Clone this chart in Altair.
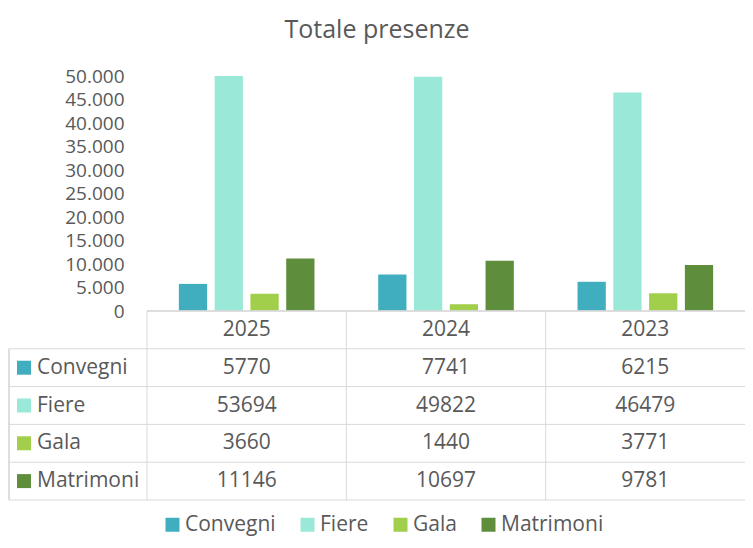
import altair as alt
import pandas as pd

years = ["2025", "2024", "2023"]
series = ["Convegni", "Fiere", "Gala", "Matrimoni"]
convegni = [5770, 7741, 6215]
fiere = [53694, 49822, 46479]
gala = [3660, 1440, 3771]
matrimoni = [11146, 10697, 9781]
colors = ["#40AEBF", "#9AE8D7", "#A2CF4B", "#5E8D3C"]
y_ticks = [0, 5000, 10000, 15000, 20000, 25000, 30000, 35000, 40000, 45000, 50000]

FONT = "Open Sans"
GRAY = "#595959"
LINE = "#D9D9D9"
W = 598
BAR_H = 235
TAB_TOP, TAB_BOT = 235, 424
H = TAB_BOT
HEAD_LEFT = -138

vals = [convegni, fiere, gala, matrimoni]
rows = []
for si, s in enumerate(series):
    for yi, y in enumerate(years):
        rows.append({"series": s, "year": y, "value": vals[si][yi],
                     "col": yi + 0.5, "row": si + 1.5})
df = pd.DataFrame(rows)
hdr = pd.DataFrame({"year": years, "col": [i + 0.5 for i in range(3)], "row": [0.5] * 3})
rowhdr = pd.DataFrame({"series": series, "row": [i + 1.5 for i in range(4)]})
hlines = pd.DataFrame({"r": [1, 2, 3, 4, 5]})
vlines = pd.DataFrame({"c": [0, 1, 2]})

xs = alt.Scale(domain=[0, 3], range=[0, W])
ys = alt.Scale(domain=[0, 5], range=[TAB_TOP, TAB_BOT])

legend = alt.Legend(orient="none", legendX=15, legendY=438, direction="horizontal",
                    title=None, symbolType="square", symbolSize=196, symbolStrokeWidth=0,
                    labelFont=FONT, labelFontSize=21, labelColor=GRAY,
                    columnPadding=21, labelOffset=2, padding=0)
color_enc = alt.Color("series:N", sort=series,
                      scale=alt.Scale(domain=series, range=colors), legend=legend)

bars = alt.Chart(df).mark_bar(clip=True).encode(
    x=alt.X("year:N", sort=years, scale=alt.Scale(paddingInner=0, paddingOuter=0), axis=None),
    xOffset=alt.XOffset("series:N", sort=series,
                        scale=alt.Scale(paddingInner=0.21, paddingOuter=0.89)),
    y=alt.Y("value:Q", scale=alt.Scale(domain=[0, 50000], range=[BAR_H, 0]),
            axis=alt.Axis(values=y_ticks, title=None, domain=False, ticks=False, grid=False,
                          labelFont=FONT, labelFontSize=19, labelColor=GRAY, labelPadding=23,
                          labelExpr="replace(format(datum.value, ','), ',', '.')")),
    color=color_enc,
)

top_line = alt.Chart(hdr).mark_rule(color=LINE, strokeWidth=1).encode(
    y=alt.YDatum(0, scale=ys, axis=None),
    x=alt.value(0), x2=alt.value(W),
)
h_rules = alt.Chart(hlines).mark_rule(color=LINE, strokeWidth=1).encode(
    y=alt.Y("r:Q", scale=ys, axis=None),
    x=alt.value(HEAD_LEFT), x2=alt.value(W),
)
v_rules = alt.Chart(vlines).mark_rule(color=LINE, strokeWidth=1).encode(
    x=alt.X("c:Q", scale=xs, axis=None),
    y=alt.YDatum(0, scale=ys, axis=None), y2=alt.Y2Datum(5),
)
left_rule = alt.Chart(hdr).mark_rule(color=LINE, strokeWidth=1).encode(
    x=alt.value(HEAD_LEFT),
    y=alt.YDatum(1, scale=ys, axis=None), y2=alt.Y2Datum(5),
)
hdr_text = alt.Chart(hdr).mark_text(font=FONT, fontSize=21, color=GRAY, baseline="middle").encode(
    x=alt.X("col:Q", scale=xs, axis=None),
    y=alt.Y("row:Q", scale=ys, axis=None),
    text="year:N",
)
cell_text = alt.Chart(df).mark_text(font=FONT, fontSize=21, color=GRAY, baseline="middle").encode(
    x=alt.X("col:Q", scale=xs, axis=None),
    y=alt.Y("row:Q", scale=ys, axis=None),
    text=alt.Text("value:Q", format="d"),
)
row_sq = alt.Chart(rowhdr).mark_square(size=196, opacity=1).encode(
    x=alt.value(-123),
    y=alt.Y("row:Q", scale=ys, axis=None),
    color=color_enc,
)
row_text = alt.Chart(rowhdr).mark_text(font=FONT, fontSize=21, color=GRAY, baseline="middle",
                                       align="left").encode(
    x=alt.value(-110),
    y=alt.Y("row:Q", scale=ys, axis=None),
    text="series:N",
)

chart = alt.layer(
    bars, top_line, h_rules, v_rules, left_rule, hdr_text, cell_text, row_sq, row_text
).resolve_scale(
    x="independent", y="independent"
).properties(
    width=W, height=H,
    autosize=alt.AutoSizeParams(type="none"),
    title=alt.Title("Totale presenze", font=FONT, fontSize=25, fontWeight="normal",
                    color=GRAY, anchor="middle", frame="bounds", offset=24),
    padding={"left": 139, "top": 68, "right": 0, "bottom": 36},
).configure_view(stroke=None)

chart.save("out.html", embed_options={"renderer": "svg", "actions": False})
